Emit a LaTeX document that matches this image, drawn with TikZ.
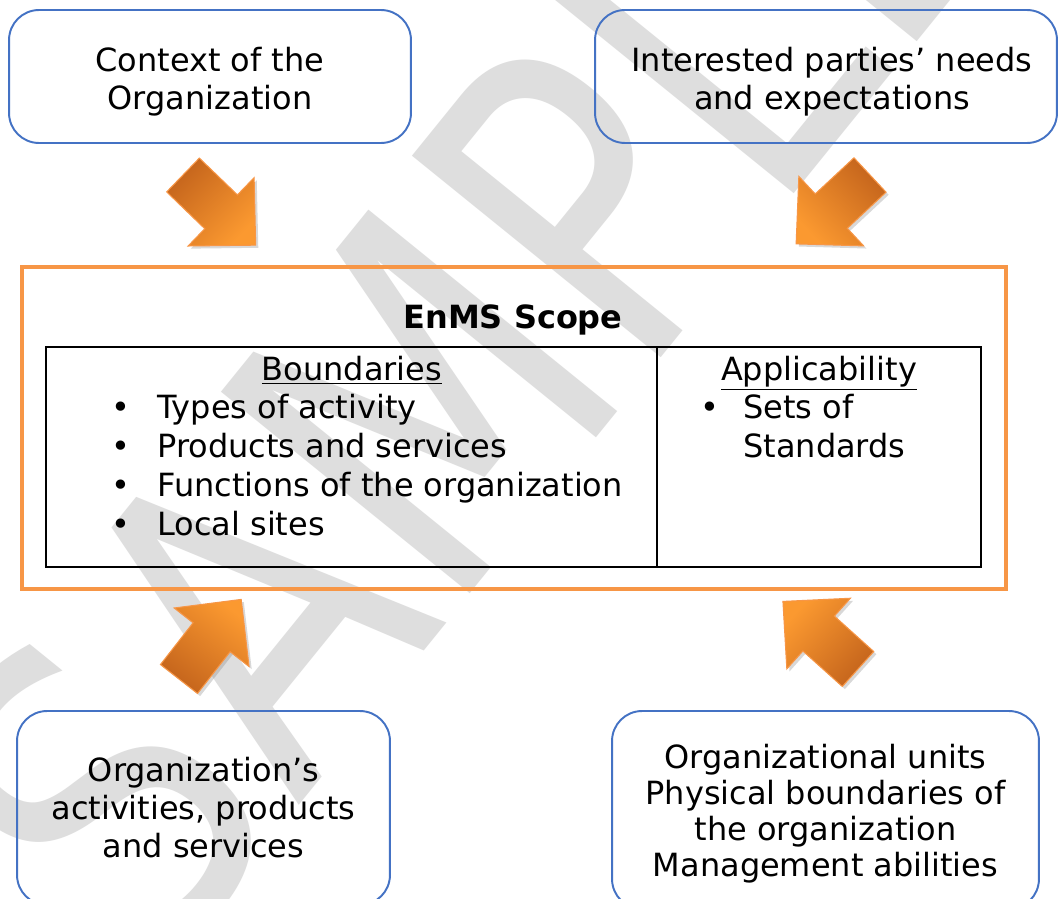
\documentclass[tikz,border=0pt]{standalone}
\usepackage{fontspec}
\setmainfont{DejaVu Sans}
\newfontfamily\markfont[FakeStretch=0.8]{DejaVu Sans}
\usetikzlibrary{shadows}
\definecolor{boxblue}{RGB}{68,114,196}
\definecolor{scopeorange}{RGB}{247,150,70}
\definecolor{arrowdark}{RGB}{196,100,28}
\definecolor{arrowlight}{RGB}{251,153,48}
\definecolor{markgray}{RGB}{222,222,222}
\newcommand{\txt}{\fontsize{18.2}{21.6}\selectfont}
\tikzset{
  infobox/.style={draw=boxblue, line width=1.1pt, rounded corners=0.6cm},
  boxtext/.style={align=center, font=\txt, inner sep=0pt},
  bigarrow/.style={draw=scopeorange, line width=0.6pt, top color=arrowlight, bottom color=arrowdark,
    drop shadow={opacity=0.3, shadow xshift=1.5pt, shadow yshift=-1.5pt}},
  item/.style={anchor=base west, font=\txt, inner sep=0pt},
  head/.style={anchor=base, font=\txt, inner sep=0pt}
}
\newcommand{\blockarrow}[3]{%
  \begin{scope}[shift={(#1)}, rotate=#2]
  \path[bigarrow, shading angle=#3] (0,-23.5) -- (53,-23.5) -- (53,-47.5) -- (101,0)
    -- (53,47.5) -- (53,23.5) -- (0,23.5) -- cycle;
  \end{scope}}

\begin{document}
\begin{tikzpicture}[x=0.02cm, y=-0.02cm]
\useasboundingbox (0,0) rectangle (1059,899);
\fill[white] (0,0) rectangle (1059,899);
\node[rotate=51, text=markgray, font=\markfont\fontsize{250}{250}\selectfont, inner sep=0pt] (mark) at (470,340) {SAMPLE};

\node[infobox, minimum width=8.04cm, minimum height=2.66cm] (ctx) at (210,76.5) {};
\node[boxtext] (ctxtext) at (210,81.5) {Context of the\\Organization};
\node[infobox, minimum width=9.24cm, minimum height=2.66cm] (ipn) at (826,76.5) {};
\node[boxtext] (ipntext) at (832,81.5) {Interested parties’ needs\\and expectations};
\node[infobox, minimum width=7.46cm, minimum height=3.88cm] (oap) at (203.5,808) {};
\node[boxtext] (oaptext) at (203.5,808) {Organization’s\\activities, products\\and services};
\node[infobox, minimum width=8.54cm, minimum height=3.96cm] (oub) at (825.5,810) {};
\node[boxtext, font=\fontsize{18.2}{20.4}\selectfont] (oubtext) at (825.5,813.5)
  {Organizational units\\Physical boundaries of\\the organization\\Management abilities};

\node[draw=scopeorange, line width=2pt, minimum width=19.68cm, minimum height=6.44cm] (scope) at (514,428) {};
\node[head, font=\txt\bfseries] (title) at (513,328) {EnMS Scope};
\draw[line width=0.7pt] (46,347) rectangle (981,567);
\draw[line width=0.7pt] (657,347) -- (657,567);

\node[head] (bnd) at (352,380) {\underline{Boundaries}};
\node[item] (b1) at (111,418) {\textbullet};
\node[item] (t1) at (157,418) {Types of activity};
\node[item] (b2) at (111,457) {\textbullet};
\node[item] (t2) at (157,457) {Products and services};
\node[item] (b3) at (111,496) {\textbullet};
\node[item] (t3) at (157,496) {Functions of the organization};
\node[item] (b4) at (111,535) {\textbullet};
\node[item] (t4) at (157,535) {Local sites};

\node[head] (app) at (819,380) {\underline{Applicability}};
\node[item] (b5) at (700,418) {\textbullet};
\node[item] (s1) at (743,418) {Sets of};
\node[item] (s2) at (743,457) {Standards};

\blockarrow{183,175}{-44}{-134}
\blockarrow{870,175}{-137}{133}
\blockarrow{179,679}{52}{-38}
\blockarrow{858,669}{138}{48}
\end{tikzpicture}
\end{document}
